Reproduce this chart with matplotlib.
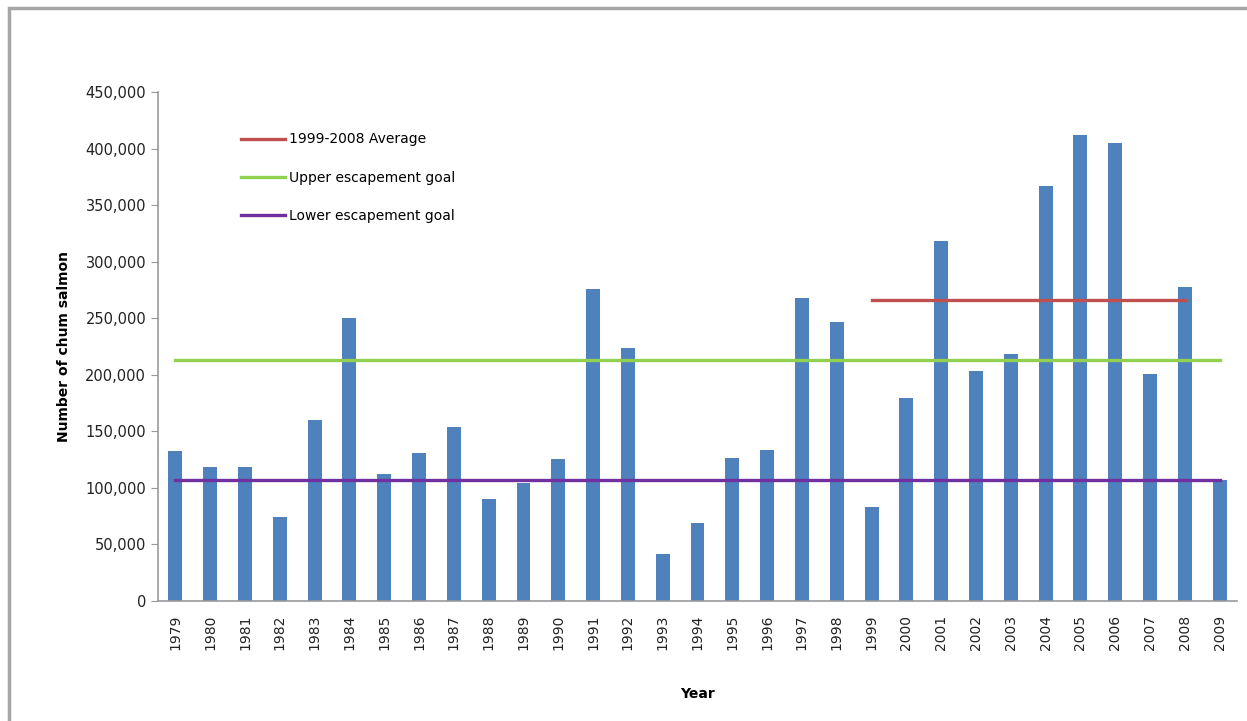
import matplotlib.pyplot as plt
import matplotlib.patches as mpatches
from matplotlib.ticker import FuncFormatter
import numpy as np

# Chum salmon escapement by year
years = list(range(1979, 2010))
counts = [132800, 118400, 118400, 74500, 160000, 250400, 112000, 130800, 153800, 90200,
          104600, 125300, 276100, 223400, 41400, 69300, 126800, 133700, 267900, 246300,
          82700, 179700, 318000, 203400, 218300, 367200, 411900, 405000, 200700, 277800,
          107000]

avg_1999_2008 = 266500
upper_goal = 213000
lower_goal = 106700

x = np.arange(len(years))

fig = plt.figure(figsize=(12.47, 7.21), dpi=100)
ax = fig.add_axes([0.1267, 0.1664, 0.8653, 0.706])

ax.bar(x, counts, width=0.4, color='#4F81BD', zorder=2)

# reference lines
i0 = years.index(1999)
i1 = years.index(2008)
ax.plot([x[i0], x[i1]], [avg_1999_2008] * 2, color='#C0504D', lw=2.4,
        label='1999-2008 Average', zorder=3)
ax.plot([x[0], x[-1]], [upper_goal] * 2, color='#92D050', lw=2.4,
        label='Upper escapement goal', zorder=3)
ax.plot([x[0], x[-1]], [lower_goal] * 2, color='#7030A0', lw=2.4,
        label='Lower escapement goal', zorder=3)

ax.set_xlim(-0.5, len(years) - 0.5)
ax.set_ylim(0, 450000)
ax.set_yticks(np.arange(0, 450001, 50000))
ax.yaxis.set_major_formatter(FuncFormatter(lambda v, p: f'{int(v):,}'))
ax.set_xticks(x)
ax.set_xticklabels([str(y) for y in years], rotation=90, fontsize=10)
ax.tick_params(axis='y', labelsize=10.5, colors='#222222', length=5, color='#999999')
ax.tick_params(axis='x', length=0, pad=10, colors='#222222')

for s in ['top', 'right']:
    ax.spines[s].set_visible(False)
for s in ['left', 'bottom']:
    ax.spines[s].set_color('#999999')
    ax.spines[s].set_linewidth(1.2)

ax.set_ylabel('Number of chum salmon', fontsize=10, fontweight='bold', labelpad=10)
ax.set_xlabel('Year', fontsize=10, fontweight='bold', labelpad=26)

ax.legend(loc='upper left', bbox_to_anchor=(0.065, 0.945), frameon=False,
          fontsize=10, handlelength=3.2, handletextpad=0.25, labelspacing=1.75)

# outer chart frame
frame = mpatches.Rectangle((0.007, -0.02), 1.1, 1.009, transform=fig.transFigure,
                           fill=False, edgecolor='#A6A6A6', lw=2.5)
fig.patches.append(frame)

fig.savefig('out.png', dpi=100)
